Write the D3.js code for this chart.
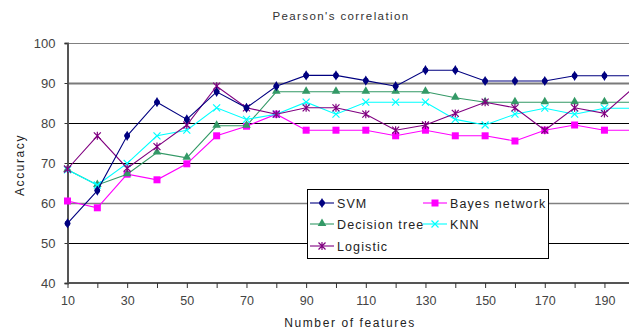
<!DOCTYPE html>
<html>
<head>
<meta charset="utf-8">
<script src="https://cdn.jsdelivr.net/npm/d3@7"></script>
<style>
  html, body { margin: 0; padding: 0; background: #fff; }
  svg { display: block; }
</style>
</head>
<body>
<svg id="chart" width="629" height="334"></svg>
<script>
// Feature counts on the x axis
const features = [10, 20, 30, 40, 50, 60, 70, 80, 90, 100, 110, 120, 130, 140, 150, 160, 170, 180, 190, 200];
const xTickLabels = [10, 30, 50, 70, 90, 110, 130, 150, 170, 190];
const yTickLabels = [40, 50, 60, 70, 80, 90, 100];

// Accuracy (%) of each classifier
const svm      = [54.9, 63.1, 76.8, 85.2, 80.9, 87.8, 83.8, 89.2, 91.9, 91.9, 90.6, 89.2, 93.2, 93.2, 90.5, 90.5, 90.5, 91.8, 91.8, 91.8];
const bayes    = [60.5, 58.8, 67.2, 65.8, 69.8, 76.8, 79.2, 82.2, 78.2, 78.2, 78.2, 76.8, 78.2, 76.8, 76.8, 75.5, 78.2, 79.5, 78.2, 78.2];
const tree     = [68.3, 64.5, 67.2, 72.6, 71.3, 79.3, 79.3, 87.8, 87.8, 87.8, 87.8, 87.8, 87.8, 86.3, 85.2, 85.2, 85.2, 85.2, 85.2, 85.2];
const knn      = [68.3, 64.5, 69.9, 76.8, 78.2, 83.8, 80.9, 82.2, 85.2, 82.2, 85.2, 85.2, 85.2, 80.9, 79.5, 82.2, 83.7, 82.2, 83.7, 83.7];
const logistic = [68.5, 76.8, 68.7, 74.1, 79.5, 89.2, 83.8, 82.2, 83.8, 83.8, 82.2, 78.2, 79.5, 82.4, 85.2, 83.8, 78.2, 83.8, 82.4, 89.0];

const seriesNames  = ["SVM", "Bayes network", "Decision tree", "KNN", "Logistic"];
const seriesValues = [svm, bayes, tree, knn, logistic];
const seriesColors = ["#000080", "#FF00FF", "#339966", "#00FFFF", "#800080"];
const seriesMarks  = ["diamond", "square", "triangle", "x", "star"];

const svg = d3.select("#chart");
const W = 629, H = 334;
const plotLeft = 67.5, plotTop = 43, plotBottom = 283;

const x = d3.scaleLinear().domain([10, 200]).range([plotLeft, plotLeft + 19 * 29.83]);
const y = d3.scaleLinear().domain([40, 100]).range([plotBottom, plotTop]);

const fontTick = "'Liberation Sans', Arial, sans-serif";
const fontLabel = "'Liberation Sans', Arial, sans-serif";

svg.append("defs").append("clipPath").attr("id", "plotClip")
  .append("rect").attr("x", plotLeft - 8).attr("y", plotTop - 8).attr("width", W - plotLeft + 8).attr("height", plotBottom - plotTop + 16);

// Horizontal gridlines
const gridStyle = {100: ["#808080", 1], 90: ["#7a7a7a", 2], 80: ["#000", 1], 70: ["#000", 1], 60: ["#808080", 1.5], 50: ["#000", 1]};
svg.append("g").selectAll("line").data(yTickLabels.filter(v => v > 40)).join("line")
  .attr("x1", plotLeft).attr("x2", W)
  .attr("y1", d => Math.round(y(d)) + 0.5).attr("y2", d => Math.round(y(d)) + 0.5)
  .attr("stroke", d => gridStyle[d][0]).attr("stroke-width", d => gridStyle[d][1]);

// Y axis
const yAxis = svg.append("g").attr("transform", `translate(${plotLeft},0)`)
  .call(d3.axisLeft(y).tickValues(yTickLabels).tickSize(3).tickPadding(9));
yAxis.select(".domain").attr("stroke", "#555").attr("stroke-width", 2);
yAxis.selectAll(".tick line").attr("stroke", "#333");
yAxis.selectAll("text").attr("font-family", fontTick).attr("font-size", 13).attr("fill", "#444");

// X axis
const xAxis = svg.append("g").attr("transform", `translate(0,${plotBottom})`)
  .call(d3.axisBottom(x).tickValues(features).tickSize(5).tickSizeOuter(0).tickFormat(d => xTickLabels.includes(d) ? d : "").tickPadding(8));
xAxis.select(".domain").attr("stroke", "#555").attr("stroke-width", 2).attr("d", `M${plotLeft},0H${W}`);
xAxis.selectAll(".tick line").attr("stroke", "#333");
xAxis.selectAll("text").attr("font-family", fontTick).attr("font-size", 12.5).attr("fill", "#444");

// Marker symbols
function drawMark(g, kind, color, cx, cy) {
  if (kind === "diamond") {
    g.append("path").attr("d", d3.symbol(d3.symbolDiamond, 30)()).attr("transform", `translate(${cx},${cy})`).attr("fill", color);
    g.append("circle").attr("cx", cx).attr("cy", cy).attr("r", 2.8).attr("fill", color);
  } else if (kind === "square") {
    g.append("rect").attr("x", cx - 3.5).attr("y", cy - 3.5).attr("width", 7).attr("height", 7).attr("fill", color);
  } else if (kind === "triangle") {
    g.append("path").attr("d", d3.symbol(d3.symbolTriangle, 32)()).attr("transform", `translate(${cx},${cy - 0.5})`).attr("fill", color);
  } else if (kind === "x") {
    g.append("path").attr("d", `M${cx - 3.5},${cy - 3.5}L${cx + 3.5},${cy + 3.5}M${cx - 3.5},${cy + 3.5}L${cx + 3.5},${cy - 3.5}`)
      .attr("stroke", color).attr("stroke-width", 1.2).attr("fill", "none");
  } else if (kind === "star") {
    g.append("path").attr("d", `M${cx - 3.5},${cy - 3.5}L${cx + 3.5},${cy + 3.5}M${cx - 3.5},${cy + 3.5}L${cx + 3.5},${cy - 3.5}M${cx},${cy - 4}L${cx},${cy + 4}`)
      .attr("stroke", color).attr("stroke-width", 1.2).attr("fill", "none");
  }
}

// Series lines and markers, clipped at the plot's right edge
const plot = svg.append("g").attr("clip-path", "url(#plotClip)");
const line = d3.line().x((d, i) => x(features[i])).y(d => y(d));
[1, 2, 3, 4, 0].forEach(s => {
  const g = plot.append("g");
  g.append("path").datum(seriesValues[s]).attr("d", line)
    .attr("fill", "none").attr("stroke", seriesColors[s]).attr("stroke-width", 1.1);
  seriesValues[s].forEach((v, i) => drawMark(g, seriesMarks[s], seriesColors[s], x(features[i]), y(v)));
});

// Title and axis labels
svg.append("text").attr("x", 341).attr("y", 20).attr("text-anchor", "middle")
  .attr("font-family", fontLabel).attr("font-size", 11.5).attr("letter-spacing", 1.4).attr("fill", "#333")
  .text("Pearson's correlation");
svg.append("text").attr("x", 350).attr("y", 327).attr("text-anchor", "middle")
  .attr("font-family", fontLabel).attr("font-size", 12).attr("letter-spacing", 1.6).attr("fill", "#222")
  .text("Number of features");
svg.append("text").attr("transform", "translate(24,165) rotate(-90)").attr("text-anchor", "middle")
  .attr("font-family", fontLabel).attr("font-size", 12).attr("letter-spacing", 1.6).attr("fill", "#222")
  .text("Accuracy");

// Legend
const lg = svg.append("g");
lg.append("rect").attr("x", 307.5).attr("y", 189.5).attr("width", 241).attr("height", 69)
  .attr("fill", "#fff").attr("stroke", "#000").attr("stroke-width", 1);
const legendPos = [[310, 203], [423, 203], [310, 224], [423, 224], [310, 246]];
seriesNames.forEach((name, s) => {
  const [lx, ly] = legendPos[s];
  lg.append("line").attr("x1", lx).attr("x2", lx + 24).attr("y1", ly).attr("y2", ly)
    .attr("stroke", seriesColors[s]).attr("stroke-width", 1.1);
  drawMark(lg, seriesMarks[s], seriesColors[s], lx + 12, ly);
  lg.append("text").attr("x", lx + 27).attr("y", ly + 4.5)
    .attr("font-family", fontLabel).attr("font-size", 12.5).attr("letter-spacing", 1.1).attr("fill", "#222")
    .text(name);
});
</script>
</body>
</html>
